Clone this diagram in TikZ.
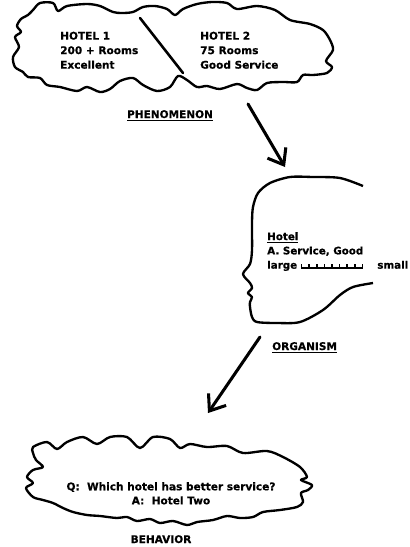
\documentclass[tikz,border=0pt]{standalone}
\usepackage{fontspec}
\setmainfont[BoldFeatures={FakeBold=0.6}]{DejaVu Sans}
\usepackage{tikz}
\usetikzlibrary{positioning, arrows.meta}

% one tick of the rating scale
\newcommand{\tk}{\hspace{5.2pt}\rule{1.3pt}{4.2pt}}
\newcommand{\tickrow}{\rlap{\rule{52.9pt}{1.2pt}}\rule{1.3pt}{4.2pt}\tk\tk\tk\tk\tk\tk\tk\tk}

\tikzset{
  outline/.style={line width=2pt, line join=round},
  pointer/.style={line width=2.6pt, line cap=round, -{Straight Barb[length=4.2mm,width=6.4mm]}},
  blurb/.style={font=\bfseries\fontsize{9}{12.4}\selectfont, align=left, inner sep=0pt},
  caption/.style={font=\bfseries\fontsize{9}{11}\selectfont, inner sep=0pt},
}

\begin{document}
\begin{tikzpicture}[x=0.03cm, y=-0.03cm]
  \useasboundingbox (0,0) rectangle (409,547);

  % the two hotels, one cloud split by a stroke
  \draw[outline] plot[smooth cycle] coordinates {
    (33,10) (40,3) (53,3) (58,11) (67,6) (87,4) (100,6) (113,12) (122,13)
    (133,12) (143,7) (155,6) (167,9) (175,15) (183,9) (197,4) (212,2) (227,3)
    (237,9) (257,6) (275,10) (290,20) (310,24) (323,30) (330,40) (333,50)
    (326,61) (332,67) (327,73) (313,75) (303,75) (297,82) (283,82) (267,83)
    (257,90) (247,88) (237,84) (220,89) (207,86) (197,87) (187,80) (178,76)
    (170,87) (157,91) (143,85) (133,78) (120,81) (110,89) (100,92) (87,87)
    (77,91) (60,87) (47,85) (40,78) (28,77) (23,72) (15,67) (13,57) (19,47)
    (15,37) (21,32) (17,26) (21,19) (28,15)};
  \coordinate (splittop) at (140,18);
  \coordinate (splitfoot) at (183,73);
  \draw[line width=2.2pt, line cap=round] (splittop) -- (splitfoot);

  \node[blurb, anchor=north west] (hotelone) at (60,31.5) {HOTEL 1\\200 + Rooms\\Excellent};
  \node[blurb, anchor=north west] (hoteltwo) at (200,31.5) {HOTEL 2\\75 Rooms\\Good Service};
  \node[caption, anchor=base] (phen) at (170,118) {\underline{PHENOMENON}};

  % head in profile
  \draw[outline] plot[smooth] coordinates {
    (363,186) (340,178) (313,177) (290,177) (270,183) (258,193) (253,207)
    (252,223) (252,250) (250,264) (243,274) (250,283) (252,288) (248,293)
    (252,297) (250,302) (250,307) (252,317) (257,322) (277,323) (300,322)
    (323,310) (340,295) (353,287) (373,283)};

  \node[blurb, anchor=north west, font=\bfseries\fontsize{8.8}{12.2}\selectfont] (rating) at (267,232)
    {\underline{Hotel}\\A. Service, Good\\large \tickrow\hspace{9pt} small};
  \node[caption, anchor=base west] (org) at (272,350) {\underline{ORGANISM}};

  \coordinate (phenfoot) at (248,104);
  \coordinate (orgcrown) at (285,167);
  \coordinate (orgchin) at (260,337);
  \coordinate (behtop) at (208,413);
  \draw[pointer] (phenfoot) -- (orgcrown);
  \draw[pointer] (orgchin) -- (behtop);

  % answer cloud
  \draw[outline] plot[smooth cycle] coordinates {
    (33,447) (47,442) (57,449) (67,442) (83,437) (97,444) (110,437) (127,437)
    (140,448) (153,437) (170,439) (180,448) (190,444) (207,447) (227,446)
    (243,453) (267,451) (283,457) (300,467) (307,477) (301,480) (312,485)
    (308,490) (301,493) (303,502) (297,507) (280,510) (263,512) (253,517)
    (240,518) (227,516) (213,520) (197,522) (187,525) (173,521) (160,523)
    (150,519) (137,521) (127,517) (117,518) (100,516) (87,515) (73,512)
    (63,508) (53,503) (43,500) (33,497) (26,488) (33,483) (27,477) (33,470)
    (43,467) (36,460) (33,453)};
  \node[blurb, align=center, anchor=north, font=\bfseries\fontsize{9}{12}\selectfont] (answer) at (171,482)
    {Q:\ \ Which hotel has better service?\\A:\ \ Hotel Two};
  \node[caption, anchor=base] (beh) at (161,543) {BEHAVIOR};
\end{tikzpicture}
\end{document}
